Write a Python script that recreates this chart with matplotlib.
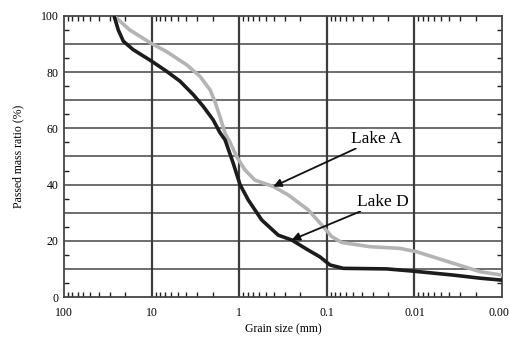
import matplotlib
matplotlib.use('Agg')
from matplotlib import pyplot as plt
from matplotlib.ticker import FixedLocator, LogLocator, NullFormatter

# grain size (mm) and passed mass ratio (%)
lake_d_size = [26.8, 24.0, 21.0, 16.2, 9.97, 6.73, 4.74, 3.34, 2.57, 1.98, 1.66,
               1.45, 1.17, 0.979, 0.787, 0.553, 0.358, 0.252, 0.163, 0.120, 0.0919,
               0.0648, 0.0207, 0.0103, 0.0036, 0.00178, 0.001]
lake_d_passed = [100, 95, 91, 88, 83.9, 80.3, 76.8, 72, 67.8, 63, 58.5,
                 55.9, 47.6, 40, 34.5, 27.4, 22, 20.3, 16.7, 14.3, 11.4,
                 10.2, 10, 9.2, 7.8, 6.7, 6]

lake_a_size = [26.8, 17.7, 10.4, 6.73, 3.97, 2.80, 2.15, 1.89, 1.66, 1.45, 1.27,
               1.07, 0.859, 0.661, 0.408, 0.275, 0.163, 0.114, 0.0879, 0.0676,
               0.0321, 0.0146, 0.00942, 0.0036, 0.00178, 0.001]
lake_a_passed = [100, 95, 90.5, 87.3, 82.6, 78.5, 73.7, 69.5, 64.2, 58.3, 55,
                 50, 45.2, 41.6, 39.3, 36.3, 31, 25.6, 21.5, 19.4,
                 17.9, 17.3, 16.1, 12, 9, 7.8]

x_ticks = [100, 10, 1, 0.1, 0.01, 0.001]
x_tick_labels = ['100', '10', '1', '0.1', '0.01', '0.001']
y_ticks = [0, 20, 40, 60, 80, 100]

plt.rcParams['font.family'] = ['Liberation Serif', 'DejaVu Serif']

fig = plt.figure(figsize=(5.10, 3.38), dpi=100)
ax = fig.add_axes([0.1255, 0.1213, 0.8588, 0.8314])

ax.set_xscale('log')
ax.set_xlim(100, 0.001)
ax.set_ylim(0, 100)

# grid
for y in range(10, 100, 10):
    ax.axhline(y, color='#6e6e6e', lw=1.4, zorder=1)
for x in x_ticks[1:-1]:
    ax.axvline(x, color='#3c3c3c', lw=1.6, zorder=1)

ax.plot(lake_a_size, lake_a_passed, color='#b4b4b4', lw=2.6, zorder=3,
        solid_capstyle='round', solid_joinstyle='round')
ax.plot(lake_d_size, lake_d_passed, color='#1c1c1c', lw=2.6, zorder=4,
        solid_capstyle='round', solid_joinstyle='round')

arrow = dict(arrowstyle='-|>', color='#111111', lw=1.3, mutation_scale=12,
             shrinkA=1, shrinkB=0)
ax.annotate('Lake A', xy=(0.408, 39.3), xytext=(0.053, 56.2), fontsize=12.5,
            ha='left', va='center', arrowprops=arrow, zorder=5,
            bbox=dict(boxstyle='square,pad=0.05', fc='white', ec='none'))
ax.annotate('Lake D', xy=(0.252, 20.3), xytext=(0.0452, 33.8), fontsize=12.5,
            ha='left', va='center', arrowprops=arrow, zorder=5,
            bbox=dict(boxstyle='square,pad=0.05', fc='white', ec='none'))

# ticks
ax.xaxis.set_major_locator(FixedLocator(x_ticks))
ax.set_xticklabels(x_tick_labels)
ax.xaxis.set_minor_locator(LogLocator(base=10, subs=range(2, 10)))
ax.xaxis.set_minor_formatter(NullFormatter())
ax.yaxis.set_major_locator(FixedLocator(y_ticks))
ax.yaxis.set_minor_locator(FixedLocator(list(range(5, 100, 10))))
ax.tick_params(which='both', direction='in', top=True, right=True,
               labelsize=8.5, color='#222222')
ax.tick_params(axis='x', pad=7)
ax.tick_params(axis='y', pad=4)
ax.tick_params(which='major', length=0)
ax.tick_params(which='minor', length=3.5, width=1)

for s in ax.spines.values():
    s.set_color('#444444')
    s.set_linewidth(1.3)

ax.set_xlabel('Grain size (mm)', fontsize=8.5, labelpad=3)
ax.set_ylabel('Passed mass ratio (%)', fontsize=8.5, labelpad=12)

fig.savefig('out.png', dpi=100)
